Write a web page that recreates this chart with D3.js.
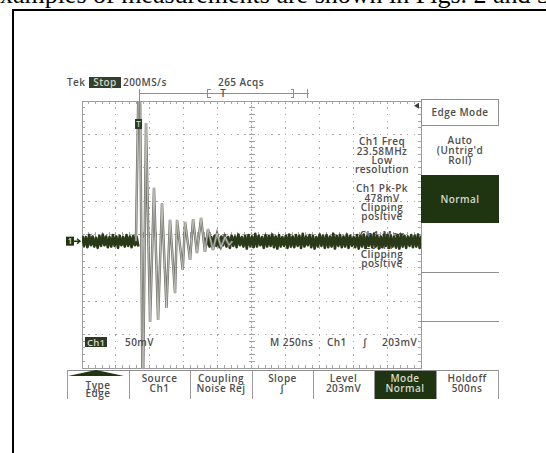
<!DOCTYPE html>
<html>
<head>
<meta charset="utf-8">
<script src="https://cdn.jsdelivr.net/npm/d3@7"></script>
<style>
  html, body { margin: 0; padding: 0; background: #ffffff; }
  svg { display: block; }
</style>
</head>
<body>
<svg id="scope" width="546" height="453"></svg>
<script>
// ---- acquisition settings ----
const timePerDiv = 250;          // ns per division
const voltsPerDiv = 50;          // mV per division
const timeWindow = [-428, 2072]; // ns, left / right screen edge (trigger at 0)
const voltWindow = [-190, 210];  // mV, bottom / top screen edge (ground at 0)
const triggerLevel = 203;        // mV

// ---- ringing burst after the trigger (ns, mV) ----
const ringTimes  = [-30, -4, 20, 44, 74, 103, 133, 162, 195, 221, 258, 273, 315, 332, 369, 391, 420, 450, 479, 501, 538, 568, 597, 627, 656, 680];
const ringValues = [0, 330, -260, 177, -121, 80, -118, 57, -100, 32, -78, 32, -43, 29, -28, 33, -18, 35, -16, 18, -13, 12, -9, 6, -6, 0];

// ---- baseline noise, sampled every 25 ns: peak-high / peak-low (mV) ----
const noiseStartA = -425;
const noiseHighA = [8, 6, 9, 7, 5, 8, 10, 7, 6, 9, 7, 8, 6, 9, 7, 8, 6];
const noiseLowA  = [-7, -9, -6, -8, -10, -7, -6, -9, -8, -7, -10, -6, -8, -7, -9, -6, -8];
const noiseStartB = 475;
const noiseHighB = [5, 7, 6, 8, 5, 7, 9, 6, 8, 7, 10, 6, 8, 9, 7, 11, 8, 6, 9, 8, 10, 7, 9, 6, 8, 10, 7, 9, 8, 11, 7, 9, 8, 6, 10, 8, 9, 7, 11, 8, 9, 7, 10, 8, 6, 9, 8, 10, 7, 9, 11, 8, 7, 10, 9, 8, 6, 9, 10, 8, 7, 9, 8, 10, 7];
const noiseLowB  = [-6, -8, -5, -7, -9, -6, -8, -10, -7, -9, -6, -8, -11, -7, -9, -8, -6, -10, -8, -7, -9, -11, -8, -7, -10, -8, -9, -7, -10, -8, -6, -9, -11, -8, -7, -10, -9, -8, -11, -7, -9, -8, -10, -7, -9, -11, -8, -10, -7, -9, -8, -11, -9, -7, -10, -8, -9, -11, -8, -10, -7, -9, -8, -10, -8];
const noiseStep = 25;

// ---- texts ----
const headerText = "Examples of measurements are shown in Figs. 2 and 3";
const statusLeft = ["Tek", "Stop", "200MS/s"];
const acqText = "265 Acqs";
const readouts = [
  ["Ch1 Freq", "23.58MHz", "Low", "resolution"],
  ["Ch1 Pk-Pk", "478mV", "Clipping", "positive"],
  ["Ch1 Max", "209mV", "Clipping", "positive"]
];
const sideTitle = "Edge Mode";
const sideAuto = ["Auto", "(Untrig'd", "Roll)"];
const sideNormal = "Normal";
const bottomMenu = [
  ["Type", "Edge"], ["Source", "Ch1"], ["Coupling", "Noise Rej"], ["Slope", "\u222B"],
  ["Level", "203mV"], ["Mode", "Normal"], ["Holdoff", "500ns"]
];
const selectedMenu = 5;
const scaleLabel = "50mV";
const timebaseLabel = ["M 250ns", "Ch1", "\u222B", "203mV"];

// ---- styling ----
const ink = "#4d4d4d";
const green = "#1f3512";
const gridCol = "#a6a6a6";
const uiFont = "'Open Sans', 'DejaVu Sans', sans-serif";
const fs = 10;        // screen text size
const ls = 0.45;      // screen text letter spacing

function uiText(sel, xp, yp, s, opts = {}) {
  return sel.append("text").attr("x", xp).attr("y", yp)
    .attr("text-anchor", opts.anchor || "start")
    .attr("font-family", uiFont).attr("font-weight", 600)
    .attr("font-size", opts.size || fs).attr("letter-spacing", opts.ls != null ? opts.ls : ls)
    .attr("fill", opts.fill || ink)
    .attr("font-style", opts.italic ? "italic" : null)
    .text(s);
}

const svg = d3.select("#scope");

// surrounding page: clipped line of body text and the figure frame
svg.append("text")
  .attr("x", -16).attr("y", 3)
  .attr("font-family", "'Liberation Serif', 'Times New Roman', serif")
  .attr("font-size", 26).attr("fill", "#000")
  .text(headerText);
svg.append("path")
  .attr("d", "M13,453 V10 H546")
  .attr("fill", "none").attr("stroke", "#000").attr("stroke-width", 2);

// ---- screen geometry ----
const scrL = 82, scrR = 421, scrT = 101, scrB = 368;
const gx = d3.scaleLinear().domain([0, 10]).range([scrL, scrR]);
const gy = d3.scaleLinear().domain([0, 8]).range([scrT, scrB]);
const x = d3.scaleLinear().domain(timeWindow).range([scrL, scrR]);
const y = d3.scaleLinear().domain(voltWindow).range([scrB, scrT]);

const grat = svg.append("g").attr("shape-rendering", "crispEdges");

// dotted division lines
for (let i = 1; i < 10; i++) {
  if (i === 5) continue;
  d3.range(0, 41).forEach(j => {
    grat.append("rect").attr("x", gx(i) - 0.5).attr("y", gy(j / 5) - 0.5)
      .attr("width", 1).attr("height", 1.5).attr("fill", gridCol);
  });
}
for (let j = 1; j < 8; j++) {
  if (j === 4) continue;
  d3.range(0, 51).forEach(i => {
    grat.append("rect").attr("x", gx(i / 5) - 0.5).attr("y", gy(j) - 0.5)
      .attr("width", 1.5).attr("height", 1).attr("fill", gridCol);
  });
}
// centre axes with minor ticks
grat.append("line").attr("x1", gx(5)).attr("x2", gx(5)).attr("y1", scrT).attr("y2", scrB)
  .attr("stroke", gridCol).attr("stroke-dasharray", "2,2");
grat.append("line").attr("x1", scrL).attr("x2", scrR).attr("y1", gy(4)).attr("y2", gy(4))
  .attr("stroke", gridCol).attr("stroke-dasharray", "2,2");
d3.range(0, 41).forEach(j => {
  grat.append("line").attr("x1", gx(5) - 3).attr("x2", gx(5) + 3)
    .attr("y1", gy(j / 5)).attr("y2", gy(j / 5)).attr("stroke", gridCol);
});
d3.range(0, 51).forEach(i => {
  grat.append("line").attr("x1", gx(i / 5)).attr("x2", gx(i / 5))
    .attr("y1", gy(4) - 3).attr("y2", gy(4) + 3).attr("stroke", gridCol);
});
// frame with inward ticks
grat.append("rect").attr("x", scrL).attr("y", scrT)
  .attr("width", scrR - scrL).attr("height", scrB - scrT)
  .attr("fill", "none").attr("stroke", "#9c9c9c");
d3.range(1, 50).forEach(i => {
  grat.append("line").attr("x1", gx(i / 5)).attr("x2", gx(i / 5)).attr("y1", scrT).attr("y2", scrT + 3).attr("stroke", gridCol);
  grat.append("line").attr("x1", gx(i / 5)).attr("x2", gx(i / 5)).attr("y1", scrB - 3).attr("y2", scrB).attr("stroke", gridCol);
});
d3.range(1, 40).forEach(j => {
  grat.append("line").attr("x1", scrL).attr("x2", scrL + 3).attr("y1", gy(j / 5)).attr("y2", gy(j / 5)).attr("stroke", gridCol);
  grat.append("line").attr("x1", scrR - 3).attr("x2", scrR).attr("y1", gy(j / 5)).attr("y2", gy(j / 5)).attr("stroke", gridCol);
});

// ---- measurement readouts (drawn under the trace) ----
const readoutTops = [141.5, 188.5, 235.5];
readouts.forEach((block, b) => {
  block.forEach((s, k) => {
    uiText(svg, 382, readoutTops[b] + k * 9.4 + 3.6, s, { anchor: "middle" });
  });
});

// ---- waveform ----
const defs = svg.append("defs");
defs.append("clipPath").attr("id", "screen")
  .append("rect").attr("x", scrL).attr("y", scrT).attr("width", scrR - scrL).attr("height", scrB - scrT);
const traceG = svg.append("g").attr("clip-path", "url(#screen)");

function noisePoints(start, hi, lo) {
  const pts = [];
  const n = Math.min(hi.length, lo.length);
  for (let i = 0; i < n; i++) {
    pts.push({ t: start + i * noiseStep, v: hi[i] });
    pts.push({ t: start + i * noiseStep + noiseStep / 2, v: lo[i] });
  }
  return pts;
}
const line = d3.line().x(d => x(d.t)).y(d => y(d.v));
[noisePoints(noiseStartA, noiseHighA, noiseLowA), noisePoints(noiseStartB, noiseHighB, noiseLowB)]
  .forEach(pts => {
    traceG.append("path").attr("d", line(pts))
      .attr("fill", "none").attr("stroke", "#2a3a18").attr("stroke-width", 2.7)
      .attr("stroke-linejoin", "round");
  });

const ring = ringTimes.map((t, i) => ({ t, v: ringValues[i] }));
traceG.append("path").attr("d", line(ring))
  .attr("fill", "none").attr("stroke", "#74746d").attr("stroke-width", 2.5);
traceG.append("path").attr("d", line(ring))
  .attr("fill", "none").attr("stroke", "#deded8").attr("stroke-width", 0.7);

// trigger point marker on the trace
svg.append("rect").attr("x", x(0) - 5).attr("y", 119).attr("width", 7).attr("height", 10)
  .attr("fill", "#2b3a22");
uiText(svg, x(0) - 1.5, 127, "T", { anchor: "middle", size: 8, ls: 0, fill: "#c9cfc2" });

// ground reference marker
svg.append("rect").attr("x", 66).attr("y", y(0) - 4.5).attr("width", 8).attr("height", 9).attr("fill", green);
uiText(svg, 70, y(0) + 3, "1", { anchor: "middle", size: 8, ls: 0, fill: "#e6e6e6" });
svg.append("path").attr("d", `M74,${y(0)} H80 M77,${y(0) - 2.5} L80,${y(0)} L77,${y(0) + 2.5}`)
  .attr("fill", "none").attr("stroke", green).attr("stroke-width", 1.4);

// trigger level arrow on the right edge
svg.append("path")
  .attr("d", `M${scrR - 7},${y(triggerLevel)} L${scrR - 2},${y(triggerLevel) - 3} L${scrR - 2},${y(triggerLevel) + 3} Z`)
  .attr("fill", "#3a3a3a");

// ---- status line and record bar ----
uiText(svg, 67, 86, statusLeft[0]);
svg.append("rect").attr("x", 89).attr("y", 77).attr("width", 32).attr("height", 11).attr("fill", "#33402a");
uiText(svg, 105, 86, statusLeft[1], { anchor: "middle", fill: "#cfd3ca" });
uiText(svg, 123, 86, statusLeft[2]);
uiText(svg, 218, 86, acqText);

const bar = svg.append("g").attr("stroke", "#8e8e8e").attr("fill", "none").attr("shape-rendering", "crispEdges");
bar.append("line").attr("x1", 139.5).attr("x2", 309).attr("y1", 93.5).attr("y2", 93.5);
bar.append("line").attr("x1", 139.5).attr("x2", 139.5).attr("y1", 89).attr("y2", 101);
bar.append("line").attr("x1", 307.5).attr("x2", 307.5).attr("y1", 89).attr("y2", 98);
bar.append("path").attr("d", "M210.5,89.5 H207.5 V97.5 H210.5").attr("stroke-width", 1.3);
bar.append("path").attr("d", "M290.5,89.5 H293.5 V97.5 H290.5").attr("stroke-width", 1.3);
uiText(svg, 223, 97, "T", { anchor: "middle", ls: 0 });

// ---- bottom readout row inside the screen ----
svg.append("rect").attr("x", 85).attr("y", 337).attr("width", 22).attr("height", 10).attr("fill", "#2c3a22");
uiText(svg, 96, 345.5, "Ch1", { anchor: "middle", size: 9.5, ls: 0.2, fill: "#d4d8cf" });
uiText(svg, 125, 346, scaleLabel);
const tbX = [270, 327, 363, 382];
timebaseLabel.forEach((s, i) => {
  uiText(svg, tbX[i], 346, s, { italic: i === 2 });
});

// ---- side menu ----
const side = svg.append("g").attr("shape-rendering", "crispEdges");
side.append("rect").attr("x", 421.5).attr("y", 99.5).attr("width", 77).attr("height", 26)
  .attr("fill", "#fff").attr("stroke", "#8e8e8e");
uiText(svg, 460, 116, sideTitle, { anchor: "middle" });
sideAuto.forEach((s, k) => {
  uiText(svg, 460, 144 + k * 10, s, { anchor: "middle" });
});
side.append("rect").attr("x", 421).attr("y", 175).attr("width", 78).attr("height", 48).attr("fill", green);
uiText(svg, 460, 202.5, sideNormal, { anchor: "middle", fill: "#d6dad0" });
side.append("line").attr("x1", 421).attr("x2", 499).attr("y1", 272.5).attr("y2", 272.5).attr("stroke", "#8e8e8e");
side.append("line").attr("x1", 421).attr("x2", 499).attr("y1", 321.5).attr("y2", 321.5).attr("stroke", "#8e8e8e");

// ---- bottom menu ----
const btnEdges = [67, 129, 190, 252, 313, 374, 436, 498];
const menu = svg.append("g").attr("shape-rendering", "crispEdges");
menu.append("rect").attr("x", btnEdges[selectedMenu]).attr("y", 370)
  .attr("width", btnEdges[selectedMenu + 1] - btnEdges[selectedMenu]).attr("height", 29).attr("fill", green);
menu.append("line").attr("x1", 67).attr("x2", 498).attr("y1", 370.5).attr("y2", 370.5).attr("stroke", "#8e8e8e");
btnEdges.forEach(e => {
  menu.append("line").attr("x1", e + 0.5).attr("x2", e + 0.5).attr("y1", 370).attr("y2", 399).attr("stroke", "#9a9a9a");
});
svg.append("path").attr("d", "M68,376 L96,370 L124,376 Z").attr("fill", green);
bottomMenu.forEach((lab, i) => {
  const cx = (btnEdges[i] + btnEdges[i + 1]) / 2;
  const y0 = i === 0 ? 388.5 : 382;
  const col = i === selectedMenu ? "#d6dad0" : ink;
  lab.forEach((s, k) => {
    uiText(svg, cx, y0 + k * (i === 0 ? 8.5 : 10), s,
      { anchor: "middle", fill: col, italic: i === 3 && k === 1 });
  });
});
</script>
</body>
</html>
